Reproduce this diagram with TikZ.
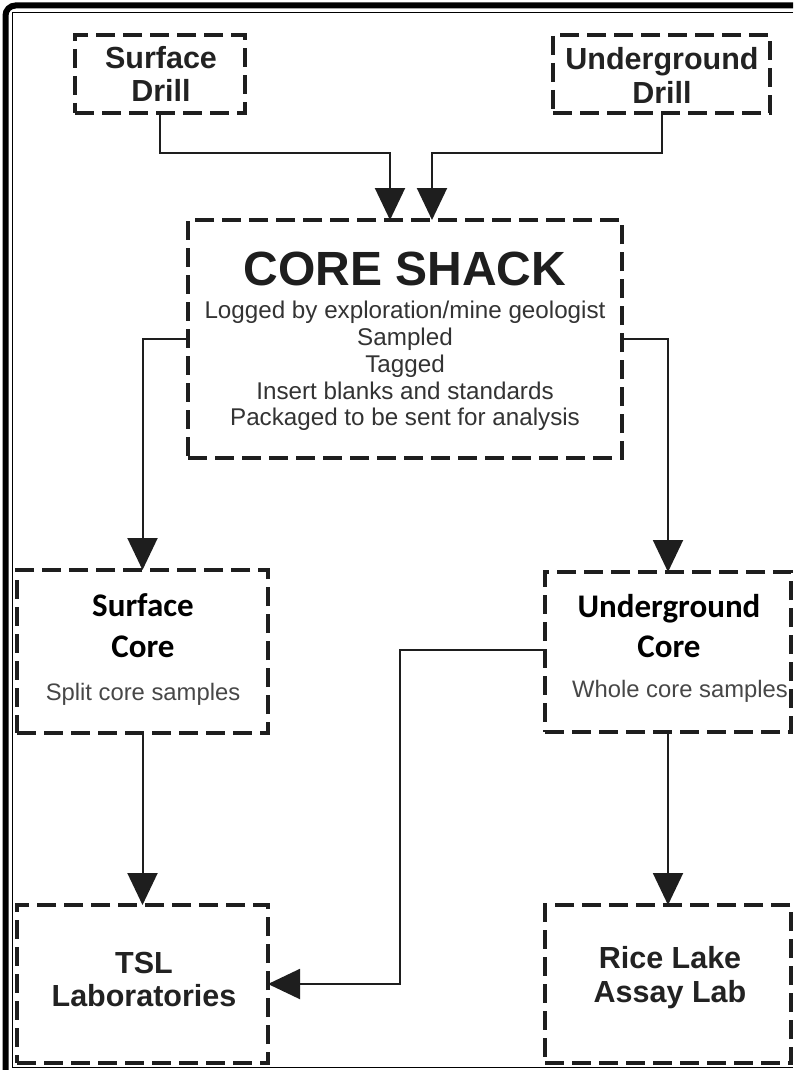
\documentclass[tikz,border=0pt]{standalone}
\usepackage{fontspec}
\setmainfont{Liberation Sans}
\newfontfamily\headfont{Carlito}
\usetikzlibrary{arrows.meta}
\definecolor{ink}{HTML}{1E1E1E}
\definecolor{labeltext}{HTML}{222222}
\definecolor{notetext}{HTML}{333333}
\definecolor{graytext}{HTML}{474747}
\begin{document}
\begin{tikzpicture}[x=1pt,y=-1pt,
  box/.style={draw=ink, line width=4pt, dash pattern=on 19pt off 8pt,
    fill=white, inner sep=0pt, outer sep=0pt},
  link/.style={draw=ink, line width=2pt, -{Triangle[length=32pt,width=30pt]}},
  boxlabel/.style={anchor=base, inner sep=0pt, text=labeltext,
    font=\fontsize{30.5}{32}\selectfont\bfseries},
  corehead/.style={anchor=base, inner sep=0pt, text=black,
    font=\headfont\fontsize{33}{40}\selectfont\bfseries},
  note/.style={anchor=base, inner sep=0pt, text=notetext,
    font=\fontsize{24.2}{27}\selectfont},
  sample/.style={anchor=base, inner sep=0pt, text=graytext,
    font=\fontsize{23.8}{27}\selectfont}]
\useasboundingbox (0,0) rectangle (793,1070);
\fill[white] (0,0) rectangle (793,1070);
% outer double frame: heavy rule on the left and top, fine rule inside it
\draw[black, line width=6pt, rounded corners=10pt]
  (5.5,1070) -- (5.5,5.5) -- (793,5.5);
\draw[black, line width=1.6pt]
  (793,12.5) -- (12.5,12.5) -- (12.5,1067.5) -- (793,1067.5);

% boxes
\node[box, minimum width=170pt, minimum height=78pt] (sd) at (160,74) {};
\node[box, minimum width=217pt, minimum height=78pt] (ud) at (661.5,74) {};
\node[box, minimum width=434pt, minimum height=238pt] (cs) at (405,339) {};
\node[box, minimum width=251pt, minimum height=163pt] (sc) at (142.5,651.5) {};
\node[box, minimum width=246pt, minimum height=160pt] (uc) at (668,652) {};
\node[box, minimum width=251pt, minimum height=158pt] (tsl) at (142.5,984) {};
\node[box, minimum width=246pt, minimum height=158pt] (rl) at (668,984) {};

% box texts
\node[boxlabel] (sdA) at (161,69) {Surface};
\node[boxlabel] (sdB) at (161,102) {Drill};
\node[boxlabel] (udA) at (662,70) {Underground};
\node[boxlabel] (udB) at (662,103) {Drill};

\node[anchor=base, inner sep=0pt, text=ink,
  font=\fontsize{48}{50}\selectfont\bfseries] (csT) at (405,285) {CORE SHACK};
\node[note] (cs1) at (405,318) {Logged by exploration/mine geologist};
\node[note] (cs2) at (405,345) {Sampled};
\node[note] (cs3) at (405,372) {Tagged};
\node[note] (cs4) at (405,399) {Insert blanks and standards};
\node[note] (cs5) at (405,425) {Packaged to be sent for analysis};

\node[corehead] (scA) at (143,616) {Surface};
\node[corehead] (scB) at (143,657) {Core};
\node[sample] (scC) at (143,700) {Split core samples};

\node[corehead] (ucA) at (669,617) {Underground};
\node[corehead] (ucB) at (669,657) {Core};
\node[sample] (ucC) at (680,697) {Whole core samples};

\node[boxlabel] (tslA) at (144,973) {TSL};
\node[boxlabel] (tslB) at (144,1006) {Laboratories};
\node[boxlabel] (rlA) at (670,968) {Rice Lake};
\node[boxlabel] (rlB) at (670,1002) {Assay Lab};

% connectors
\draw[link] (sd.south) -- ++(0,40) -| ([xshift=-15pt]cs.north);
\draw[link] (ud.south) -- ++(0,40) -| ([xshift=27pt]cs.north);
\draw[link] (cs.west) -| (sc.north);
\draw[link] (cs.east) -| (uc.north);
\draw[link] (sc.south) -- (tsl.north);
\draw[link] (uc.south) -- (rl.north);
\draw[link] ([yshift=2pt]uc.west) -- ++(-145,0) |- (tsl.east);
\end{tikzpicture}
\end{document}
